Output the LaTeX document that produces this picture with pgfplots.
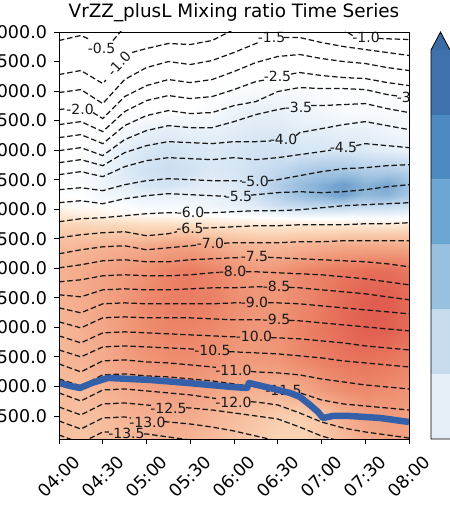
\documentclass[border=0pt]{standalone}
\usepackage{fontspec}
\setmainfont{DejaVu Sans}
\usepackage{pgfplots}
\pgfplotsset{compat=1.18}
\definecolor{bl}{HTML}{3460AA}
\definecolor{cb0}{HTML}{3A6BA5}
\definecolor{cb1}{HTML}{3F72AC}
\definecolor{cb2}{HTML}{4E8AC2}
\definecolor{cb3}{HTML}{6CA6D3}
\definecolor{cb4}{HTML}{98C1E0}
\definecolor{cb5}{HTML}{C7DBEF}
\definecolor{cb6}{HTML}{E6EFF8}
\pgfplotsset{
  colormap={fld}{rgb255=(95,145,196) rgb255=(120,165,208) rgb255=(147,186,220)
    rgb255=(172,202,230) rgb255=(198,219,239) rgb255=(226,237,247) rgb255=(255,255,255)
    rgb255=(253,232,212) rgb255=(250,212,182) rgb255=(247,192,160) rgb255=(244,171,140)
    rgb255=(240,150,120) rgb255=(235,128,102) rgb255=(229,107,88) rgb255=(222,88,76)},
  cl/.style={black!90, line width=1.25pt, dash pattern=on 5.5pt off 2.8pt},
}
\tikzset{lab/.style={font=\fontsize{14}{16}\selectfont, inner sep=0pt, text=black!90}}
\begin{document}
\begin{tikzpicture}
\begin{axis}[
  at={(0,0)}, anchor=south west,
  scale only axis, width=350pt, height=407pt,
  xmin=4, xmax=8, ymin=1110, ymax=8000,
  xtick={4,4.5,5,5.5,6,6.5,7,7.5,8},
  xticklabels={04:00,04:30,05:00,05:30,06:00,06:30,07:00,07:30,08:00},
  ytick={1500,2000,...,8000},
  /pgf/number format/assume math mode=true,
  ticklabel style={font=\fontsize{17.5}{20}\selectfont},
  yticklabel style={xshift=-4pt, /pgf/number format/.cd, fixed, fixed zerofill, precision=1, 1000 sep={}},
  xticklabel style={yshift=-33pt, rotate=45, anchor=center},
  tick align=outside, tick pos=left, major tick length=4.5pt,
  every tick/.style={black, line width=0.8pt},
  axis line style={line width=0.8pt},
  axis on top,
  colormap name=fld, point meta min=-3, point meta max=4,
  title={VrZZ\_plusL Mixing ratio Time Series},
  title style={font=\fontsize{18.4}{22}\selectfont, yshift=0.5pt},
]
% background field
\addplot[surf, shader=interp, point meta=explicit, mesh/cols=17] coordinates {
(4,8000)[0] (4.25,8000)[0] (4.5,8000)[0] (4.75,8000)[0] (5,8000)[0] (5.25,8000)[0] (5.5,8000)[0] (5.75,8000)[0] (6,8000)[0] (6.25,8000)[0] (6.5,8000)[0] (6.75,8000)[0] (7,8000)[0] (7.25,8000)[0] (7.5,8000)[0] (7.75,8000)[0] (8,8000)[0]
(4,7195)[0] (4.25,7195)[0] (4.5,7195)[0] (4.75,7195)[0] (5,7195)[0] (5.25,7195)[0] (5.5,7195)[0] (5.75,7195)[0] (6,7195)[0] (6.25,7195)[0] (6.5,7195)[0] (6.75,7195)[0] (7,7195)[0] (7.25,7195)[0] (7.5,7195)[0] (7.75,7195)[0] (8,7195)[0]
(4,6686)[0] (4.25,6686)[0] (4.5,6686)[0] (4.75,6686)[0] (5,6686)[0] (5.25,6686)[0] (5.5,6686)[0] (5.75,6686)[-0.1] (6,6686)[-0.3] (6.25,6686)[-0.4] (6.5,6686)[-0.4] (6.75,6686)[-0.3] (7,6686)[-0.2] (7.25,6686)[-0.1] (7.5,6686)[-0.1] (7.75,6686)[-0.1] (8,6686)[-0.1]
(4,6331)[0] (4.25,6331)[0] (4.5,6331)[0] (4.75,6331)[-0.2] (5,6331)[-0.4] (5.25,6331)[-0.5] (5.5,6331)[-0.4] (5.75,6331)[-0.4] (6,6331)[-0.5] (6.25,6331)[-0.6] (6.5,6331)[-0.6] (6.75,6331)[-0.5] (7,6331)[-0.5] (7.25,6331)[-0.4] (7.5,6331)[-0.4] (7.75,6331)[-0.3] (8,6331)[-0.2]
(4,5992)[0] (4.25,5992)[0] (4.5,5992)[-0.2] (4.75,5992)[-0.5] (5,5992)[-0.7] (5.25,5992)[-0.8] (5.5,5992)[-0.7] (5.75,5992)[-0.6] (6,5992)[-0.7] (6.25,5992)[-0.8] (6.5,5992)[-0.8] (6.75,5992)[-0.7] (7,5992)[-0.7] (7.25,5992)[-0.7] (7.5,5992)[-0.6] (7.75,5992)[-0.5] (8,5992)[-0.4]
(4,5669)[0] (4.25,5669)[-0.1] (4.5,5669)[-0.3] (4.75,5669)[-0.6] (5,5669)[-0.8] (5.25,5669)[-0.9] (5.5,5669)[-0.8] (5.75,5669)[-0.6] (6,5669)[-0.7] (6.25,5669)[-0.9] (6.5,5669)[-1.1] (6.75,5669)[-1.4] (7,5669)[-1.6] (7.25,5669)[-1.6] (7.5,5669)[-1.4] (7.75,5669)[-1.4] (8,5669)[-1.2]
(4,5415)[0] (4.25,5415)[-0.1] (4.5,5415)[-0.3] (4.75,5415)[-0.5] (5,5415)[-0.7] (5.25,5415)[-0.8] (5.5,5415)[-0.6] (5.75,5415)[-0.5] (6,5415)[-0.6] (6.25,5415)[-0.9] (6.5,5415)[-1.4] (6.75,5415)[-1.9] (7,5415)[-2.3] (7.25,5415)[-2.7] (7.5,5415)[-2.2] (7.75,5415)[-2.5] (8,5415)[-1.8]
(4,5246)[0] (4.25,5246)[0] (4.5,5246)[-0.2] (4.75,5246)[-0.3] (5,5246)[-0.4] (5.25,5246)[-0.4] (5.5,5246)[-0.4] (5.75,5246)[-0.4] (6,5246)[-0.5] (6.25,5246)[-0.8] (6.5,5246)[-1.3] (6.75,5246)[-1.8] (7,5246)[-2.2] (7.25,5246)[-2.6] (7.5,5246)[-2.0] (7.75,5246)[-2.2] (8,5246)[-1.6]
(4,5076)[0.1] (4.25,5076)[0] (4.5,5076)[0] (4.75,5076)[-0.1] (5,5076)[-0.2] (5.25,5076)[-0.2] (5.5,5076)[-0.2] (5.75,5076)[-0.3] (6,5076)[-0.4] (6.25,5076)[-0.6] (6.5,5076)[-0.9] (6.75,5076)[-1.1] (7,5076)[-1.2] (7.25,5076)[-1.3] (7.5,5076)[-1.1] (7.75,5076)[-1.1] (8,5076)[-0.9]
(4,4907)[0.5] (4.25,4907)[0.4] (4.5,4907)[0.3] (4.75,4907)[0.2] (5,4907)[0.1] (5.25,4907)[0.1] (5.5,4907)[0] (5.75,4907)[0] (6,4907)[-0.1] (6.25,4907)[-0.1] (6.5,4907)[-0.2] (6.75,4907)[-0.3] (7,4907)[-0.3] (7.25,4907)[-0.3] (7.5,4907)[-0.3] (7.75,4907)[-0.3] (8,4907)[-0.2]
(4,4737)[1.0] (4.25,4737)[1.0] (4.5,4737)[0.9] (4.75,4737)[0.9] (5,4737)[0.8] (5.25,4737)[0.8] (5.5,4737)[0.8] (5.75,4737)[0.7] (6,4737)[0.6] (6.25,4737)[0.5] (6.5,4737)[0.5] (6.75,4737)[0.5] (7,4737)[0.5] (7.25,4737)[0.5] (7.5,4737)[0.5] (7.75,4737)[0.5] (8,4737)[0.6]
(4,4398)[1.6] (4.25,4398)[1.7] (4.5,4398)[1.8] (4.75,4398)[1.9] (5,4398)[2.0] (5.25,4398)[2.2] (5.5,4398)[2.2] (5.75,4398)[2.0] (6,4398)[1.8] (6.25,4398)[1.7] (6.5,4398)[1.7] (6.75,4398)[1.8] (7,4398)[1.9] (7.25,4398)[2.0] (7.5,4398)[2.0] (7.75,4398)[2.0] (8,4398)[2.0]
(4,3975)[1.8] (4.25,3975)[2.0] (4.5,3975)[2.2] (4.75,3975)[2.4] (5,3975)[2.6] (5.25,3975)[2.9] (5.5,3975)[3.1] (5.75,3975)[2.9] (6,3975)[2.6] (6.25,3975)[2.4] (6.5,3975)[2.5] (6.75,3975)[2.8] (7,3975)[3.0] (7.25,3975)[3.2] (7.5,3975)[3.4] (7.75,3975)[3.4] (8,3975)[3.2]
(4,3466)[1.8] (4.25,3466)[2.0] (4.5,3466)[2.2] (4.75,3466)[2.5] (5,3466)[2.8] (5.25,3466)[3.0] (5.5,3466)[3.1] (5.75,3466)[3.0] (6,3466)[2.7] (6.25,3466)[2.5] (6.5,3466)[2.5] (6.75,3466)[2.8] (7,3466)[3.1] (7.25,3466)[3.5] (7.5,3466)[3.8] (7.75,3466)[3.9] (8,3466)[3.5]
(4,2958)[1.7] (4.25,2958)[1.9] (4.5,2958)[2.1] (4.75,2958)[2.4] (5,2958)[2.7] (5.25,2958)[2.9] (5.5,2958)[2.9] (5.75,2958)[2.8] (6,2958)[2.6] (6.25,2958)[2.5] (6.5,2958)[2.6] (6.75,2958)[2.9] (7,2958)[3.2] (7.25,2958)[3.5] (7.5,2958)[3.8] (7.75,2958)[3.8] (8,2958)[3.5]
(4,2449)[1.7] (4.25,2449)[1.8] (4.5,2449)[2.0] (4.75,2449)[2.3] (5,2449)[2.5] (5.25,2449)[2.7] (5.5,2449)[2.7] (5.75,2449)[2.6] (6,2449)[2.4] (6.25,2449)[2.4] (6.5,2449)[2.5] (6.75,2449)[2.8] (7,2449)[3.0] (7.25,2449)[3.2] (7.5,2449)[3.3] (7.75,2449)[3.2] (8,2449)[3.0]
(4,1940)[1.6] (4.25,1940)[1.6] (4.5,1940)[1.8] (4.75,1940)[2.0] (5,1940)[2.2] (5.25,1940)[2.3] (5.5,1940)[2.3] (5.75,1940)[2.2] (6,1940)[2.0] (6.25,1940)[1.9] (6.5,1940)[1.8] (6.75,1940)[2.0] (7,1940)[2.4] (7.25,1940)[2.7] (7.5,1940)[2.8] (7.75,1940)[2.7] (8,1940)[2.6]
(4,1517)[1.6] (4.25,1517)[1.5] (4.5,1517)[1.6] (4.75,1517)[1.8] (5,1517)[1.9] (5.25,1517)[2.0] (5.5,1517)[2.0] (5.75,1517)[1.8] (6,1517)[1.6] (6.25,1517)[1.4] (6.5,1517)[1.2] (6.75,1517)[1.1] (7,1517)[1.4] (7.25,1517)[1.9] (7.5,1517)[2.3] (7.75,1517)[2.4] (8,1517)[2.3]
(4,1110)[1.5] (4.25,1110)[1.4] (4.5,1110)[1.5] (4.75,1110)[1.6] (5,1110)[1.7] (5.25,1110)[1.8] (5.5,1110)[1.8] (5.75,1110)[1.6] (6,1110)[1.4] (6.25,1110)[1.2] (6.5,1110)[1.0] (6.75,1110)[1.0] (7,1110)[1.2] (7.25,1110)[1.6] (7.5,1110)[2.0] (7.75,1110)[2.2] (8,1110)[2.2]
};
% dashed contour lines, split where the labels sit
\addplot[cl] coordinates {(4,7856) (4.25,7941) (4.354,7873)};
\addplot[cl] coordinates {(4.617,7856) (4.754,8093)};
\addplot[cl] coordinates {(4,7280) (4.25,7348) (4.5,7127) (4.537,7187)};
\addplot[cl] coordinates {(4.834,7653) (5,7720) (5.25,7805) (5.5,7788) (5.75,7856) (6,8042) (6.25,8144) (6.5,8212) (6.75,8246) (7,8178) (7.25,8042) (7.371,7924)};
\addplot[cl] coordinates {(7.646,7890) (8,7873)};
\addplot[cl] coordinates {(4,6975) (4.25,7025) (4.5,6788) (4.75,7195) (5,7398) (5.25,7500) (5.5,7449) (5.75,7517) (6,7653) (6.25,7805) (6.286,7831)};
\addplot[cl] coordinates {(6.571,7907) (6.75,7907) (7,7822) (7.25,7754) (7.5,7703) (7.75,7653) (8,7602)};
\addplot[cl] coordinates {(4,6686) (4.091,6703)};
\addplot[cl] coordinates {(4.389,6636) (4.5,6534) (4.75,6907) (5,7093) (5.25,7195) (5.5,7144) (5.75,7195) (6,7331) (6.25,7483) (6.5,7585) (6.75,7619) (7,7551) (7.25,7500) (7.5,7466) (7.75,7398) (8,7348)};
\addplot[cl] coordinates {(4,6432) (4.25,6483) (4.5,6314) (4.75,6653) (5,6839) (5.25,6924) (5.5,6873) (5.75,6907) (6,7025) (6.25,7161) (6.343,7185)};
\addplot[cl] coordinates {(6.651,7288) (6.75,7314) (7,7263) (7.25,7229) (7.5,7212) (7.75,7144) (8,7093)};
\addplot[cl] coordinates {(4,6212) (4.25,6263) (4.5,6110) (4.75,6415) (5,6585) (5.25,6670) (5.5,6619) (5.75,6636) (6,6754) (6.25,6822) (6.5,6992) (6.75,7059) (7,7042) (7.25,7042) (7.5,7025) (7.75,6941) (7.863,6917)};
\addplot[cl] coordinates {(4,5992) (4.25,6042) (4.5,5907) (4.75,6178) (5,6331) (5.25,6415) (5.5,6381) (5.75,6381) (6,6483) (6.25,6602) (6.5,6686) (6.594,6712)};
\addplot[cl] coordinates {(6.88,6754) (7,6754) (7.25,6771) (7.5,6788) (7.75,6703) (8,6636)};
\addplot[cl] coordinates {(4,5788) (4.25,5839) (4.5,5737) (4.75,5958) (5,6076) (5.25,6144) (5.5,6127) (5.75,6110) (6,6144) (6.25,6144) (6.423,6156)};
\addplot[cl] coordinates {(6.709,6246) (6.75,6297) (7,6364) (7.25,6432) (7.5,6483) (7.75,6415) (8,6347)};
\addplot[cl] coordinates {(4,5585) (4.25,5636) (4.5,5551) (4.75,5720) (5,5822) (5.25,5873) (5.5,5856) (5.75,5839) (6,5873) (6.25,5839) (6.5,5873) (6.75,5924) (7,5975) (7.109,6000)};
\addplot[cl] coordinates {(7.394,6076) (7.5,6110) (7.75,6076) (8,6042)};
\addplot[cl] coordinates {(4,5330) (4.25,5364) (4.5,5314) (4.75,5415) (5,5483) (5.25,5517) (5.5,5500) (5.75,5483) (6,5483) (6.091,5476)};
\addplot[cl] coordinates {(6.389,5483) (6.5,5500) (6.75,5568) (7,5636) (7.25,5686) (7.5,5703) (7.75,5737) (8,5754)};
\addplot[cl] coordinates {(4,5110) (4.25,5144) (4.5,5093) (4.75,5178) (5,5229) (5.25,5263) (5.5,5246) (5.75,5229) (5.909,5219)};
\addplot[cl] coordinates {(6.194,5239) (6.25,5246) (6.5,5280) (6.75,5297) (7,5280) (7.25,5297) (7.5,5330) (7.75,5381) (8,5415)};
\addplot[cl] coordinates {(4,4788) (4.25,4839) (4.5,4856) (4.75,4890) (5,4924) (5.25,4941) (5.349,4941)};
\addplot[cl] coordinates {(5.657,4941) (5.75,4941) (6,4958) (6.25,4975) (6.5,4975) (6.75,4991) (7,5025) (7.25,5059) (7.5,5076) (7.75,5093) (8,5110)};
\addplot[cl] coordinates {(4,4517) (4.25,4568) (4.5,4602) (4.75,4619) (5,4551) (5.25,4585) (5.349,4619)};
\addplot[cl] coordinates {(5.646,4681) (5.75,4686) (6,4703) (6.25,4720) (6.5,4720) (6.75,4737) (7,4737) (7.25,4737) (7.5,4754) (7.75,4754) (8,4771)};
\addplot[cl] coordinates {(4,4246) (4.25,4313) (4.5,4364) (4.75,4381) (5,4313) (5.25,4347) (5.5,4381) (5.577,4391)};
\addplot[cl] coordinates {(5.886,4424) (6,4432) (6.25,4432) (6.5,4432) (6.75,4449) (7,4449) (7.25,4466) (7.5,4466) (7.75,4466) (8,4466)};
\addplot[cl] coordinates {(4,4008) (4.25,4059) (4.5,4127) (4.75,4144) (5,4110) (5.25,4110) (5.5,4144) (5.75,4161) (6,4178) (6.08,4183)};
\addplot[cl] coordinates {(6.389,4186) (6.5,4178) (6.75,4161) (7,4144) (7.25,4127) (7.5,4110) (7.75,4076) (8,4025)};
\addplot[cl] coordinates {(4,3771) (4.25,3805) (4.5,3873) (4.75,3890) (5,3873) (5.25,3873) (5.5,3890) (5.75,3924) (5.829,3929)};
\addplot[cl] coordinates {(6.137,3941) (6.25,3941) (6.5,3924) (6.75,3907) (7,3890) (7.25,3856) (7.5,3822) (7.75,3771) (8,3720)};
\addplot[cl] coordinates {(4,3551) (4.25,3517) (4.5,3635) (4.75,3652) (5,3635) (5.25,3635) (5.5,3652) (5.75,3669) (6,3669) (6.25,3686) (6.343,3686)};
\addplot[cl] coordinates {(6.629,3678) (6.75,3669) (7,3635) (7.25,3602) (7.5,3568) (7.75,3517) (8,3466)};
\addplot[cl] coordinates {(4,3330) (4.25,3246) (4.5,3398) (4.75,3415) (5,3398) (5.25,3398) (5.5,3398) (5.75,3398) (6,3415) (6.08,3415)};
\addplot[cl] coordinates {(6.389,3415) (6.5,3415) (6.75,3398) (7,3364) (7.25,3330) (7.5,3296) (7.75,3263) (8,3229)};
\addplot[cl] coordinates {(4,3093) (4.25,2991) (4.5,3161) (4.75,3178) (5,3161) (5.25,3161) (5.5,3161) (5.75,3144) (6,3127) (6.25,3127) (6.343,3127)};
\addplot[cl] coordinates {(6.629,3119) (6.75,3110) (7,3076) (7.25,3042) (7.5,3008) (7.75,2974) (8,2941)};
\addplot[cl] coordinates {(4,2856) (4.25,2737) (4.5,2907) (4.75,2924) (5,2907) (5.25,2890) (5.5,2873) (5.75,2856) (6,2839) (6.034,2839)};
\addplot[cl] coordinates {(6.423,2827) (6.5,2822) (6.75,2805) (7,2771) (7.25,2737) (7.5,2686) (7.75,2652) (8,2618)};
\addplot[cl] coordinates {(4,2618) (4.25,2500) (4.5,2669) (4.75,2686) (5,2669) (5.25,2652) (5.5,2635) (5.566,2627)};
\addplot[cl] coordinates {(5.943,2588) (6,2585) (6.25,2568) (6.5,2551) (6.75,2517) (7,2483) (7.25,2432) (7.5,2398) (7.75,2364) (8,2330)};
\addplot[cl] coordinates {(4,2381) (4.25,2246) (4.5,2432) (4.75,2449) (5,2415) (5.25,2398) (5.5,2364) (5.75,2330) (5.794,2322)};
\addplot[cl] coordinates {(6.194,2254) (6.25,2246) (6.5,2229) (6.75,2195) (7,2127) (7.25,2076) (7.5,2025) (7.75,1991) (8,1957)};
\addplot[cl] coordinates {(4,2127) (4.25,2008) (4.5,2195) (4.75,2212) (5,2178) (5.25,2161) (5.5,2127) (5.75,2093) (6,2042) (6.25,1991) (6.366,1968)};
\addplot[cl] coordinates {(6.766,1885) (7,1771) (7.25,1703) (7.5,1669) (7.75,1635) (8,1601)};
\addplot[cl] coordinates {(4,1890) (4.25,1754) (4.5,1940) (4.75,1957) (5,1924) (5.25,1890) (5.5,1856) (5.75,1805) (5.794,1796)};
\addplot[cl] coordinates {(6.194,1740) (6.25,1737) (6.5,1686) (6.75,1551) (7,1398) (7.25,1296) (7.5,1229) (7.75,1178) (8,1127)};
\addplot[cl] coordinates {(4,1652) (4.25,1517) (4.5,1703) (4.75,1720) (5,1686) (5.051,1679)};
\addplot[cl] coordinates {(5.451,1639) (5.5,1635) (5.75,1601) (6,1551) (6.25,1500) (6.5,1449) (6.75,1313) (7,1161) (7.25,1059) (7.5,991)};
\addplot[cl] coordinates {(4,1415) (4.25,1279) (4.5,1466) (4.75,1483) (4.823,1466)};
\addplot[cl] coordinates {(5.2,1405) (5.25,1398) (5.5,1364) (5.75,1313) (6,1246) (6.25,1161) (6.5,1076) (6.75,974)};
\addplot[cl] coordinates {(4,1178) (4.25,1042) (4.5,1229) (4.571,1229)};
\addplot[cl] coordinates {(4.971,1195) (5,1195) (5.25,1144) (5.5,1093) (5.75,1025)};
% contour labels
\node[lab] at (axis cs:4.486,7720) {-0.5};
\node[lab, rotate=47] at (axis cs:4.686,7466) {-1.0};
\node[lab] at (axis cs:7.509,7907) {-1.0};
\node[lab] at (axis cs:6.429,7907) {-1.5};
\node[lab] at (axis cs:4.24,6686) {-2.0};
\node[lab] at (axis cs:6.497,7246) {-2.5};
\node[lab] at (axis cs:8.017,6890) {-3.0};
\node[lab] at (axis cs:6.737,6720) {-3.5};
\node[lab] at (axis cs:6.566,6178) {-4.0};
\node[lab] at (axis cs:7.251,6042) {-4.5};
\node[lab] at (axis cs:6.24,5466) {-5.0};
\node[lab] at (axis cs:6.051,5212) {-5.5};
\node[lab] at (axis cs:5.503,4941) {-6.0};
\node[lab] at (axis cs:5.497,4669) {-6.5};
\node[lab] at (axis cs:5.731,4415) {-7.0};
\node[lab] at (axis cs:6.234,4195) {-7.5};
\node[lab] at (axis cs:5.983,3941) {-8.0};
\node[lab] at (axis cs:6.486,3686) {-8.5};
\node[lab] at (axis cs:6.234,3415) {-9.0};
\node[lab] at (axis cs:6.486,3127) {-9.5};
\node[lab] at (axis cs:6.229,2839) {-10.0};
\node[lab] at (axis cs:5.754,2602) {-10.5};
\node[lab] at (axis cs:5.994,2263) {-11.0};
\node[lab] at (axis cs:6.566,1924) {-11.5};
\node[lab] at (axis cs:5.994,1737) {-12.0};
\node[lab] at (axis cs:5.251,1635) {-12.5};
\node[lab] at (axis cs:5.011,1398) {-13.0};
\node[lab] at (axis cs:4.771,1212) {-13.5};
% boundary line
\addplot[bl, line width=6.5pt, line join=round] coordinates {
(4,2059) (4.126,2008) (4.24,1974) (4.377,2059) (4.56,2144) (5.04,2110) (5.474,2059) (5.977,1991) (6.149,1974) (6.171,2059) (6.411,1974) (6.64,1890) (6.754,1822) (6.869,1686) (6.96,1568) (7.017,1466) (7.131,1500) (7.326,1500) (7.669,1466) (8,1398)};
\end{axis}
% colour bar
\begin{axis}[
  at={(372pt,0)}, anchor=south west,
  scale only axis, width=19pt, height=407pt,
  xmin=0, xmax=1, ymin=0, ymax=6.278,
  axis lines=none, clip=false,
]
\addplot[fill=cb6, draw=none] coordinates {(0,0) (1,0) (1,1) (0,1) (0,0)};
\addplot[fill=cb5, draw=none] coordinates {(0,1) (1,1) (1,2) (0,2) (0,1)};
\addplot[fill=cb4, draw=none] coordinates {(0,2) (1,2) (1,3) (0,3) (0,2)};
\addplot[fill=cb3, draw=none] coordinates {(0,3) (1,3) (1,4) (0,4) (0,3)};
\addplot[fill=cb2, draw=none] coordinates {(0,4) (1,4) (1,5) (0,5) (0,4)};
\addplot[fill=cb1, draw=none] coordinates {(0,5) (1,5) (1,6) (0,6) (0,5)};
\addplot[fill=cb0, draw=none] coordinates {(0,6) (1,6) (0.5,6.278) (0,6)};
\addplot[black, line width=0.8pt] coordinates {(1,0) (0,0) (0,6) (0.5,6.278) (1,6)};
\end{axis}
\pgfresetboundingbox
\useasboundingbox (-59pt,-66pt) rectangle (390pt,439pt);
\end{tikzpicture}
\end{document}
